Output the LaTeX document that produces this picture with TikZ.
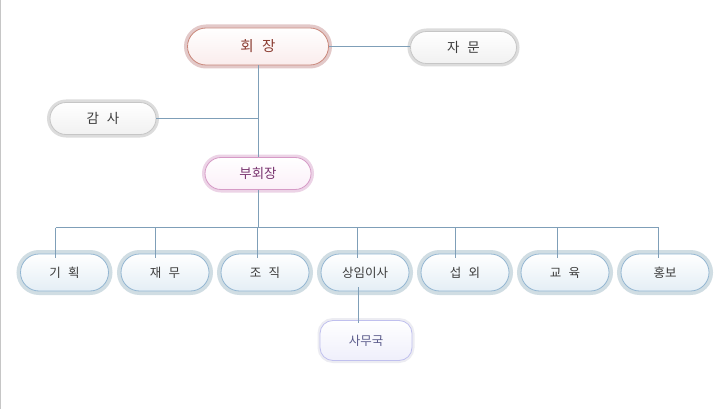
\documentclass[tikz,border=0pt]{standalone}
\usepackage{fontspec}
\setmainfont[WordSpace=2.6]{Noto Sans CJK KR}
\usetikzlibrary{shapes.misc}
\definecolor{linec}{HTML}{7F9FB8}
\definecolor{bglow}{HTML}{D0DDE3}
\definecolor{bline}{HTML}{93B6D2}
\definecolor{bfill}{HTML}{E4EEF5}
\definecolor{rglow}{HTML}{E3C9C9}
\definecolor{rline}{HTML}{C9877A}
\definecolor{rfill}{HTML}{FAECEC}
\definecolor{rtext}{HTML}{8A3B30}
\definecolor{gglow}{HTML}{DCDCDC}
\definecolor{gline}{HTML}{C6C6C6}
\definecolor{gfill}{HTML}{F1F1F1}
\definecolor{gtext}{HTML}{3C3C3C}
\definecolor{pglow}{HTML}{ECD3E6}
\definecolor{pline}{HTML}{D69AC6}
\definecolor{pfill}{HTML}{FBEFF8}
\definecolor{ptext}{HTML}{7A3570}
\definecolor{lglow}{HTML}{ECECF2}
\definecolor{lline}{HTML}{C0C0EE}
\definecolor{lfill}{HTML}{EFEFFB}
\definecolor{ltext}{HTML}{5C5C8C}
\tikzset{
  pill/.style={rounded rectangle, inner sep=0pt, line width=0.8pt},
  bluebox/.style={pill, draw=bline, top color=white, bottom color=bfill,
    preaction={draw=bglow, line width=8pt},
    minimum width=88pt, minimum height=37pt, font=\fontsize{12.5}{14}\selectfont, text=gtext},
  redbox/.style={pill, draw=rline, top color=white, bottom color=rfill,
    preaction={draw=rglow, line width=7pt},
    minimum width=141pt, minimum height=37pt, font=\fontsize{14.5}{16}\selectfont, text=rtext},
  graybox/.style={pill, draw=gline, top color=white, bottom color=gfill,
    preaction={draw=gglow, line width=6pt},
    minimum width=106pt, minimum height=32pt, font=\fontsize{13.5}{15}\selectfont, text=gtext},
  pinkbox/.style={pill, draw=pline, top color=white, bottom color=pfill,
    preaction={draw=pglow, line width=6pt},
    minimum width=106pt, minimum height=32pt, font=\fontsize{13.5}{15}\selectfont, text=ptext},
  lavbox/.style={rectangle, rounded corners=13pt, inner sep=0pt, line width=0.8pt,
    draw=lline, top color=white, bottom color=lfill,
    preaction={draw=lglow, line width=5pt},
    minimum width=92pt, minimum height=40pt, font=\fontsize{12.5}{14}\selectfont, text=ltext},
  conn/.style={draw=linec, line width=0.8pt}
}
\begin{document}
\begin{tikzpicture}[x=1pt,y=-1pt]
\useasboundingbox (0,0) rectangle (725,409);
\fill[white] (0,0) rectangle (725,409);
\draw[draw=gglow!90!black, line width=1pt] (0.5,0) -- (0.5,409);

\node[redbox] (hj) at (258,46.5) {회 장};
\node[graybox] (jm) at (463.5,47.5) {자 문};
\node[graybox] (gs) at (103,118.5) {감 사};
\node[pinkbox] (bhj) at (258,173.5) {부회장};

\node[bluebox] (n1) at (64.5,272.5) {기 획};
\node[bluebox] (n2) at (165,272.5) {재 무};
\node[bluebox] (n3) at (265,272.5) {조 직};
\node[bluebox] (n4) at (365,272.5) {상임이사};
\node[bluebox] (n5) at (465,272.5) {섭 외};
\node[bluebox] (n6) at (565,272.5) {교 육};
\node[bluebox] (n7) at (665,272.5) {홍보};

\node[lavbox] (smg) at (366,340.5) {사무국};

\coordinate (bus) at (258,227.5);
\coordinate (d1) at (55.5,227.5);
\coordinate (d2) at (155.5,227.5);
\coordinate (d3) at (257.5,227.5);
\coordinate (d4) at (357.5,227.5);
\coordinate (d5) at (455.5,227.5);
\coordinate (d6) at (557.5,227.5);
\coordinate (d7) at (658.5,227.5);
\coordinate (ds) at (358.5,0);

\path[conn] (hj.east) -- (hj.east -| jm.west);
\path[conn] (hj.south) -- (bhj.north);
\path[conn] (gs.east) -- (gs.east -| hj.south);
\path[conn] (bhj.south) -- (bus);
\path[conn] (d1) -- (d7);
\path[conn] (d1) -- ([yshift=-4pt]d1 |- n1.north);
\path[conn] (d2) -- ([yshift=-4pt]d2 |- n2.north);
\path[conn] (d3) -- ([yshift=-4pt]d3 |- n3.north);
\path[conn] (d4) -- ([yshift=-4pt]d4 |- n4.north);
\path[conn] (d5) -- ([yshift=-4pt]d5 |- n5.north);
\path[conn] (d6) -- ([yshift=-4pt]d6 |- n6.north);
\path[conn] (d7) -- ([yshift=-4pt]d7 |- n7.north);
\path[conn] ([yshift=4pt]ds |- n4.south) -- ([yshift=-3pt]ds |- smg.north);
\end{tikzpicture}
\end{document}
